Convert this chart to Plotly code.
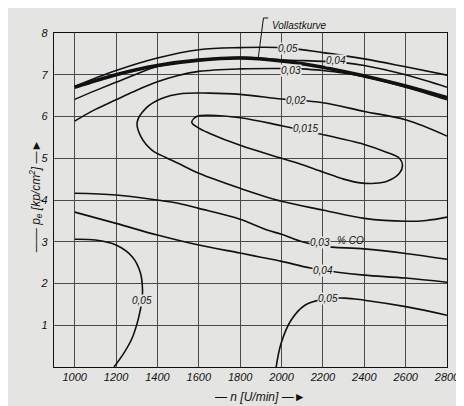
import plotly.graph_objects as go

# ── Daten ───────────────────────────────────────────────────────────────────
N_TICKS = [1000, 1200, 1400, 1600, 1800, 2000, 2200, 2400, 2600, 2800]
P_TICKS = [1, 2, 3, 4, 5, 6, 7, 8]

# Vollastkurve
N_VOLL = [1000, 1200, 1400, 1600, 1800, 2000, 2200, 2400, 2600, 2800]
P_VOLL = [6.70, 7.00, 7.22, 7.35, 7.40, 7.33, 7.18, 6.97, 6.73, 6.45]

# 0,05 % CO oben
N_05_OBEN = [1000, 1200, 1400, 1600, 1800, 2000, 2200, 2400, 2600, 2800]
P_05_OBEN = [6.72, 7.10, 7.40, 7.60, 7.65, 7.65, 7.53, 7.38, 7.19, 6.99]

# 0,04 % CO oben
N_04_OBEN = [1000, 1100, 1200, 1300, 1400, 1600, 1800, 2000, 2200, 2300, 2400, 2600, 2800]
P_04_OBEN = [6.41, 6.62, 6.82, 7.02, 7.20, 7.36, 7.42, 7.36, 7.32, 7.29, 7.22, 7.00, 6.70]

# 0,03 % CO oben
N_03_OBEN = [1000, 1100, 1200, 1300, 1400, 1500, 1600, 1800, 2000, 2100, 2200, 2300, 2400, 2600, 2800]
P_03_OBEN = [5.89, 6.17, 6.40, 6.63, 6.83, 6.98, 7.08, 7.14, 7.15, 7.14, 7.10, 7.04, 6.95, 6.70, 6.40]

# 0,02 % CO (offene Schleife)
N_02 = [2800, 2600, 2400, 2200, 2000, 1800, 1650, 1520, 1420, 1345, 1302, 1322,
        1375, 1440, 1500, 1600, 1800, 2000, 2200, 2400, 2600, 2700, 2800]
P_02 = [5.53, 5.92, 6.12, 6.33, 6.42, 6.53, 6.56, 6.55, 6.43, 6.20, 5.86, 5.50,
        5.19, 5.02, 4.88, 4.64, 4.28, 3.97, 3.76, 3.56, 3.49, 3.51, 3.59]

# 0,015 % CO (geschlossene Schleife)
N_015 = [1566, 1590, 1650, 1800, 2000, 2170, 2400, 2510, 2570, 2585, 2570, 2510,
         2450, 2380, 2300, 2200, 2080, 2000, 1800, 1650, 1600, 1566]
P_015 = [5.86, 6.00, 6.03, 5.97, 5.78, 5.60, 5.33, 5.14, 5.00, 4.83, 4.64, 4.45,
         4.40, 4.41, 4.50, 4.67, 4.88, 5.00, 5.31, 5.60, 5.72, 5.86]

# 0,03 % CO unten
N_03_UNTEN = [1000, 1200, 1400, 1500, 1600, 1800, 1930, 2000, 2100, 2200, 2400, 2600, 2800]
P_03_UNTEN = [4.16, 4.12, 4.00, 3.92, 3.80, 3.54, 3.28, 3.18, 3.00, 2.89, 2.83, 2.72, 2.58]

# 0,04 % CO unten
N_04_UNTEN = [1000, 1200, 1400, 1600, 1800, 1900, 2000, 2140, 2270, 2400, 2600, 2800]
P_04_UNTEN = [3.71, 3.44, 3.16, 2.92, 2.73, 2.63, 2.53, 2.37, 2.27, 2.20, 2.13, 2.03]

# 0,05 % CO unten links
N_05_LINKS = [1000, 1100, 1200, 1280, 1318, 1328, 1325, 1310, 1280, 1240, 1190]
P_05_LINKS = [3.06, 3.04, 2.92, 2.63, 2.25, 1.84, 1.60, 1.20, 0.72, 0.35, 0.00]

# 0,05 % CO unten rechts
N_05_RECHTS = [1974, 1998, 2046, 2113, 2200, 2305, 2400, 2607, 2800]
P_05_RECHTS = [0.00, 0.57, 1.12, 1.48, 1.62, 1.65, 1.60, 1.44, 1.24]

# ── Stil ────────────────────────────────────────────────────────────────────
BG = "#e4e4e2"
INK = "#111111"
GRID = "#4a4a4a"
FONT = "Liberation Sans"

fig = go.Figure()


def linie(n, p, breite=1.6):
    fig.add_trace(go.Scatter(
        x=n, y=p, mode="lines",
        line=dict(color=INK, width=breite, shape="spline", smoothing=1.0),
        hoverinfo="skip", showlegend=False,
    ))


for n, p in [(N_05_OBEN, P_05_OBEN), (N_04_OBEN, P_04_OBEN), (N_03_OBEN, P_03_OBEN),
             (N_02, P_02), (N_015, P_015), (N_03_UNTEN, P_03_UNTEN),
             (N_04_UNTEN, P_04_UNTEN), (N_05_LINKS, P_05_LINKS),
             (N_05_RECHTS, P_05_RECHTS)]:
    linie(n, p)
linie(N_VOLL, P_VOLL, breite=3.6)


# ── Beschriftung der Kurven (mit Lücke in der Linie) ────────────────────────
def etikett(text, x, y, lücke=True):
    fig.add_annotation(
        x=x, y=y, text=text, showarrow=False,
        font=dict(family=FONT, size=10, color=INK, style="italic"),
        bgcolor=BG if lücke else None, borderpad=0,
    )


etikett("0,05", 2032, 7.64)
etikett("0,04", 2262, 7.33)
etikett("0,03", 2046, 7.11)
etikett("0,02", 2070, 6.39)
etikett("0,015", 2114, 5.72)
etikett("0,03", 2186, 2.99)
etikett("% CO", 2334, 3.02, lücke=False)
etikett("0,04", 2200, 2.32)
etikett("0,05", 2224, 1.63)
etikett("0,05", 1326, 1.60)

# Vollastkurve mit Hinweislinie
fig.add_annotation(
    x=0.55, y=1.045, xref="paper", yref="paper", xanchor="left",
    text="Vollastkurve", showarrow=False,
    font=dict(family=FONT, size=10, color=INK, style="italic"),
)
fig.add_shape(
    type="path", xref="paper", yref="paper",
    path="M 0.545 1.045 L 0.533 1.045 L 0.520 0.928",
    line=dict(color=INK, width=1),
)

# Achsentitel
fig.add_annotation(
    x=0.525, y=-0.09, xref="paper", yref="paper", yanchor="middle",
    text="— n [U/min] —►", showarrow=False,
    font=dict(family=FONT, size=12, color=INK, style="italic"),
)
fig.add_annotation(
    x=-0.075, y=0.51, xref="paper", yref="paper", textangle=-90,
    text="—— p<sub>e</sub> [kp/cm<sup>2</sup>] —►", showarrow=False,
    font=dict(family=FONT, size=12, color=INK, style="italic"),
)

# Seite hat 8 px Rand: Ränder entsprechend verschoben
fig.update_layout(
    width=464, height=406,
    margin=dict(l=46, r=22, t=25, b=47),
    paper_bgcolor=BG, plot_bgcolor=BG,
    font=dict(family=FONT, size=11, color=INK, style="italic"),
)
fig.update_xaxes(
    range=[900, 2800], tickvals=N_TICKS,
    showgrid=True, gridcolor=GRID, gridwidth=1,
    zeroline=False, showline=True, linecolor=INK, linewidth=1.2, mirror=True,
    ticks="", ticklabelstandoff=0,
)
fig.update_yaxes(
    range=[0, 8], tickvals=P_TICKS,
    showgrid=True, gridcolor=GRID, gridwidth=1,
    zeroline=False, showline=True, linecolor=INK, linewidth=1.2, mirror=True,
    ticks="", ticklabelstandoff=3,
)

fig.write_html("out.html")
